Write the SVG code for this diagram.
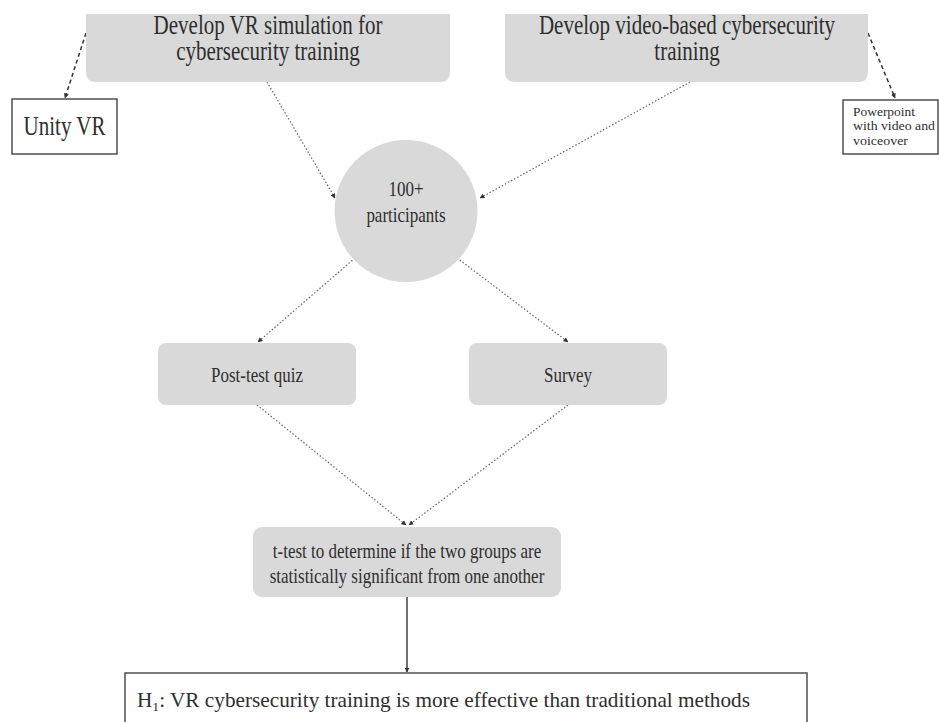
<svg xmlns="http://www.w3.org/2000/svg" width="939" height="722" viewBox="0 0 939 722">
<style>
.node{fill:#d9d9d9;}
.box{fill:#ffffff;stroke:#444;stroke-width:1.4;}
.lbl{font-family:'Liberation Serif',serif;fill:#2e2e2e;text-anchor:middle;}
.t21{font-size:21px;}
.t17{font-size:17px;}
.t14{font-size:12.4px;text-anchor:start;}
.dot{fill:none;stroke:#666;stroke-width:1.2;stroke-dasharray:1.5 2;}
.dash{fill:none;stroke:#333;stroke-width:1.5;stroke-dasharray:4 3;}
.solid{fill:none;stroke:#333;stroke-width:1.4;}
</style>
<defs>
<marker id="ah" viewBox="0 0 10 10" refX="9" refY="5" markerWidth="5" markerHeight="5" orient="auto" markerUnits="userSpaceOnUse">
<path d="M0,0 L10,5 L0,10 z" fill="#333"/>
</marker>
</defs>
<rect width="939" height="722" fill="#ffffff"/>
<g id="connectors">
<path class="dash" d="M86,33 L65,98" marker-end="url(#ah)"/>
<path class="dash" d="M868,33 L895,98" marker-end="url(#ah)"/>
<path class="dot" d="M267,82 L335,198" marker-end="url(#ah)"/>
<path class="dot" d="M690,82 L480,198" marker-end="url(#ah)"/>
<path class="dot" d="M355,258 L258,342" marker-end="url(#ah)"/>
<path class="dot" d="M457,258 L568,342" marker-end="url(#ah)"/>
<path class="dot" d="M257,405 L406,525" marker-end="url(#ah)"/>
<path class="dot" d="M568,405 L409,525" marker-end="url(#ah)"/>
<path class="solid" d="M407,597 L407,672" marker-end="url(#ah)"/>
</g>
<g id="vr-sim">
<path class="node" d="M86,14 L450,14 L450,72 Q450,82 440,82 L96,82 Q86,82 86,72 Z"/>
<text class="lbl t21" transform="translate(268,34) scale(1,1.25)">Develop VR simulation for</text>
<text class="lbl t21" transform="translate(268,60) scale(1,1.25)">cybersecurity training</text>
</g>
<g id="video-training">
<path class="node" d="M505,14 L868,14 L868,72 Q868,82 858,82 L515,82 Q505,82 505,72 Z"/>
<text class="lbl t21" transform="translate(687,34) scale(1,1.25)">Develop video-based cybersecurity</text>
<text class="lbl t21" transform="translate(687,60) scale(1,1.25)">training</text>
</g>
<g id="unity-vr">
<rect class="box" x="12" y="99" width="105" height="55"/>
<text class="lbl t21" transform="translate(64.5,135) scale(1,1.25)">Unity VR</text>
</g>
<g id="powerpoint">
<rect class="box" x="843" y="100" width="95" height="54"/>
<text class="lbl t14" x="853" y="115.5" textLength="62" lengthAdjust="spacingAndGlyphs">Powerpoint</text>
<text class="lbl t14" x="853" y="130.3" textLength="82" lengthAdjust="spacingAndGlyphs">with video and</text>
<text class="lbl t14" x="853" y="145.1" textLength="55" lengthAdjust="spacingAndGlyphs">voiceover</text>
</g>
<g id="participants">
<ellipse class="node" cx="406" cy="211" rx="71.5" ry="71"/>
<text class="lbl t17" transform="translate(406,196) scale(1,1.2)">100+</text>
<text class="lbl t17" transform="translate(406,222) scale(1,1.2)">participants</text>
</g>
<g id="post-test">
<rect class="node" x="158" y="343" width="198" height="62" rx="8"/>
<text class="lbl t17" transform="translate(257,382) scale(1,1.2)">Post-test quiz</text>
</g>
<g id="survey">
<rect class="node" x="469" y="343" width="198" height="62" rx="8"/>
<text class="lbl t17" transform="translate(568,382) scale(1,1.2)">Survey</text>
</g>
<g id="t-test">
<rect class="node" x="253" y="527" width="308" height="70" rx="9"/>
<text class="lbl t17" transform="translate(407,558) scale(1,1.2)">t-test to determine if the two groups are</text>
<text class="lbl t17" transform="translate(407,583) scale(1,1.2)">statistically significant from one another</text>
</g>
<g id="hypothesis">
<rect class="box" x="125" y="673" width="682" height="60"/>
<text class="lbl t17" style="text-anchor:start" transform="translate(137,707) scale(1,1.2)" textLength="613" lengthAdjust="spacingAndGlyphs">H<tspan font-size="11" dy="3">1</tspan><tspan dy="-3">: VR cybersecurity training is more effective than traditional methods</tspan></text>
</g>
</svg>
